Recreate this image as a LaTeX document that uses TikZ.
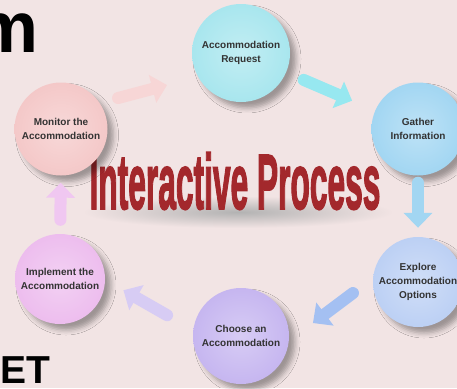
\documentclass[tikz,border=0pt]{standalone}
\usepackage{fontspec}
\setmainfont{Liberation Sans}
\newfontfamily\procfont[FakeBold=2.5]{Liberation Sans}
\usetikzlibrary{arrows.meta,shadows.blur}

\definecolor{bgpink}{HTML}{F2E4E4}
\definecolor{titlered}{HTML}{A3282C}
\definecolor{reqcol}{HTML}{A8E6EE}
\definecolor{gatcol}{HTML}{A2D6F2}
\definecolor{expcol}{HTML}{BCD0F4}
\definecolor{chocol}{HTML}{C6B6F0}
\definecolor{impcol}{HTML}{EDBDEE}
\definecolor{moncol}{HTML}{F4C8C8}
\definecolor{exparrow}{HTML}{A4C0F2}

\begin{document}
\begin{tikzpicture}[x=1pt,y=-1pt,
        stage/.style={
          circle, minimum size=#1, inner sep=0pt, align=center,
          text=black!80, font=\bfseries\fontsize{10}{14}\selectfont,
          blur shadow={shadow xshift=6pt, shadow yshift=-6pt,
            shadow blur radius=5pt, shadow opacity=35}
        },
        flow/.style={
          line width=12pt, line cap=round,
          -{Triangle[width=28pt,length=15pt]}
        }
      ]
      \useasboundingbox (0,0) rectangle (457,388);
      \clip (0,0) rectangle (457,388);
      \fill [bgpink] (0,0) rectangle (457,388);
      % leftovers of the slide title
      \node [anchor=base east, inner sep=0pt, font=\bfseries\fontsize{72}{72}\selectfont] (ttl) at (39,52) {m};
      \node [anchor=base west, inner sep=0pt, font=\bfseries\fontsize{39}{39}\selectfont] (ftr) at (0,383) {ET};
      % centre title
      \shade [inner color=black!30, outer color=bgpink] (238,212) ellipse [x radius=155, y radius=16];
      \node [inner sep=0pt, text=titlered] (proc) at (235,181)
        {\scalebox{0.61}[1.5]{\fontsize{52}{52}\procfont\bfseries Interactive Process}};
      % the six stages
      \node [stage=98pt, inner color=reqcol!70, outer color=reqcol] (req) at (241,53) {Accommodation\\Request};
      \node [stage=93pt, inner color=gatcol!70, outer color=gatcol] (gat) at (418,129) {Gather\\Information};
      \node [stage=90pt, inner color=expcol!70, outer color=expcol] (exp) at (418,282) {Explore\\Accommodation\\Options};
      \node [stage=96pt, inner color=chocol!70, outer color=chocol] (cho) at (241,336) {Choose an\\Accommodation};
      \node [stage=90pt, inner color=impcol!70, outer color=impcol] (imp) at (60,279) {Implement the\\Accommodation};
      \node [stage=93pt, inner color=moncol!70, outer color=moncol] (mon) at (61,129) {Monitor the\\Accommodation};
      % arrows between them
      \draw [flow, color=moncol!75!white, shorten <=19pt, shorten >=32pt] (mon.34) -- (req.209);
      \draw [flow, color=reqcol!90!cyan, shorten <=19pt, shorten >=25pt] (req) -- (gat);
      \draw [flow, color=gatcol, shorten <=7pt, shorten >=9pt] (gat) -- (exp);
      \draw [flow, color=exparrow, shorten <=25pt, shorten >=30pt] (exp.175) -- (cho.-6);
      \draw [flow, color=chocol!70!white, shorten <=30pt, shorten >=21pt] (cho.173) -- (imp.-1);
      \draw [flow, color=impcol!85!white, shorten <=14pt, shorten >=7pt] (imp) -- (mon);
    \end{tikzpicture}
\end{document}
